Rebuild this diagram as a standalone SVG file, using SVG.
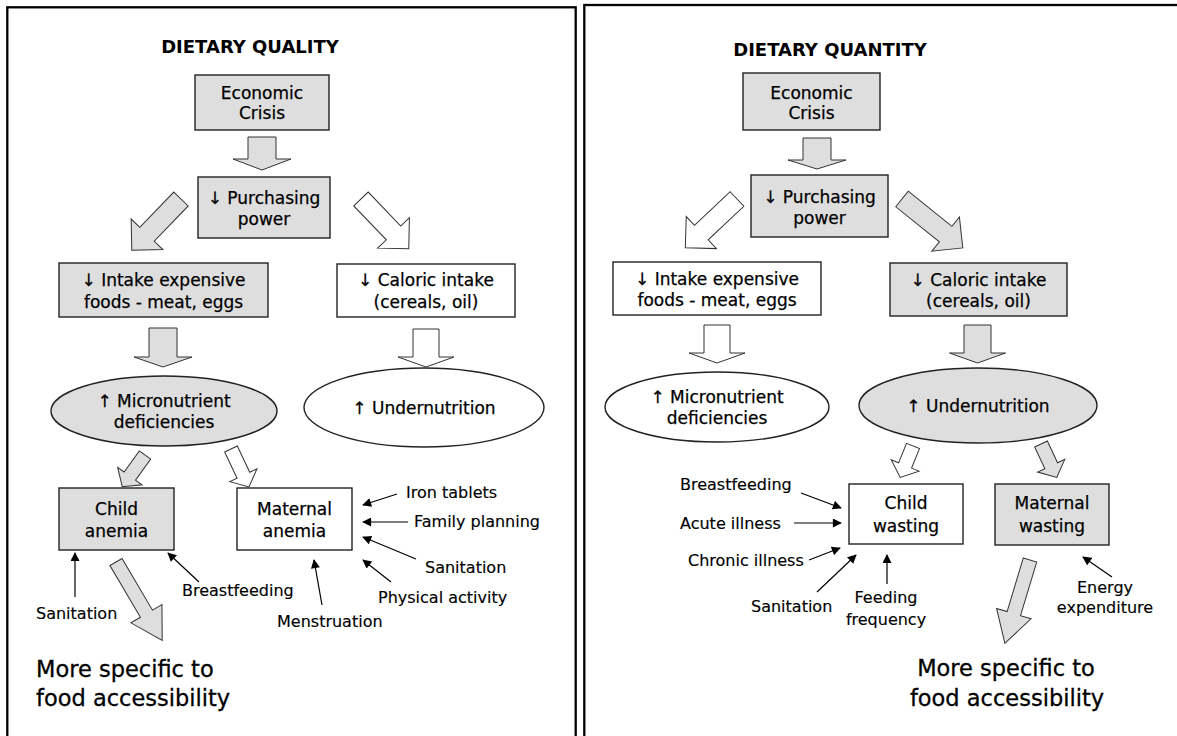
<svg xmlns="http://www.w3.org/2000/svg" width="1177" height="736" viewBox="0 0 1177 736">
<style>
  text { font-family: "DejaVu Sans", "Liberation Sans", sans-serif; fill: #000; stroke: #000; stroke-width: 0.25px; }
  .box { stroke: #222; stroke-width: 1.4; }
  .g { fill: #dedede; }
  .w { fill: #ffffff; }
  .t { font-size: 17px; text-anchor: middle; }
  .lbl { font-size: 16px; stroke-width: 0.15px; }
  .mid { text-anchor: middle; }
  .title { font-size: 18px; font-weight: bold; text-anchor: middle; stroke-width: 0; }
  .big { font-size: 22.5px; stroke-width: 0.3px; }
  .ba { stroke: #333; stroke-width: 1; }
  .thin { stroke: #000; stroke-width: 1.2; fill: none; marker-end: url(#ah); }
  .frame { fill: none; stroke: #000; stroke-width: 2.3; }
</style>
<defs>
  <marker id="ah" viewBox="0 0 10 10" refX="9" refY="5" markerWidth="10" markerHeight="9" markerUnits="userSpaceOnUse" orient="auto">
    <path d="M0,0 L10,5 L0,10 z" fill="#000"/>
  </marker>
</defs>
<rect width="1177" height="736" fill="#fff"/>
<g id="frames">
  <rect class="frame" x="7.3" y="7.3" width="568.4" height="760"/>
  <rect class="frame" x="584.3" y="5" width="620" height="760"/>
</g>

<!-- LEFT PANEL: DIETARY QUALITY -->
<g id="left-title"><text class="title" x="250" y="53">DIETARY QUALITY</text></g>
<g id="l-econ"><rect class="box g" x="195" y="75" width="134" height="55"/>
  <text class="t" x="262" y="99">Economic</text><text class="t" x="262" y="119">Crisis</text></g>
<g id="l-purch"><rect class="box g" x="198" y="177" width="132" height="61"/>
  <text class="t" x="264" y="204">↓ Purchasing</text><text class="t" x="264" y="225">power</text></g>
<g id="l-intake"><rect class="box g" x="59" y="263" width="209" height="54"/>
  <text class="t" x="163.5" y="286">↓ Intake expensive</text><text class="t" x="163.5" y="308">foods - meat, eggs</text></g>
<g id="l-caloric"><rect class="box w" x="337" y="264" width="178" height="53"/>
  <text class="t" x="426" y="286">↓ Caloric intake</text><text class="t" x="426" y="308">(cereals, oil)</text></g>
<g id="l-micro"><ellipse class="box g" cx="164" cy="411" rx="113" ry="35"/>
  <text class="t" x="164" y="407">↑ Micronutrient</text><text class="t" x="164" y="428">deficiencies</text></g>
<g id="l-under"><ellipse class="box w" cx="424" cy="407.5" rx="120" ry="39.5"/>
  <text class="t" x="424" y="414">↑ Undernutrition</text></g>
<g id="l-child"><rect class="box g" x="59" y="488" width="115" height="62"/>
  <text class="t" x="116.5" y="515">Child</text><text class="t" x="116.5" y="537">anemia</text></g>
<g id="l-maternal"><rect class="box w" x="237" y="488" width="115" height="62"/>
  <text class="t" x="294.5" y="515">Maternal</text><text class="t" x="294.5" y="537">anemia</text></g>
<g id="l-labels">
  <text class="lbl" x="406" y="498">Iron tablets</text>
  <text class="lbl" x="414" y="527">Family planning</text>
  <text class="lbl" x="425" y="573">Sanitation</text>
  <text class="lbl" x="378" y="603">Physical activity</text>
  <text class="lbl" x="277" y="627">Menstruation</text>
  <text class="lbl" x="182" y="596">Breastfeeding</text>
  <text class="lbl" x="36" y="619">Sanitation</text>
</g>
<g id="l-footer">
  <text class="big" x="36" y="677">More specific to</text>
  <text class="big" x="36" y="706">food accessibility</text>
</g>

<!-- RIGHT PANEL: DIETARY QUANTITY -->
<g id="right-title"><text class="title" x="830" y="56">DIETARY QUANTITY</text></g>
<g id="r-econ"><rect class="box g" x="743" y="73" width="137" height="57"/>
  <text class="t" x="811.5" y="99">Economic</text><text class="t" x="811.5" y="119">Crisis</text></g>
<g id="r-purch"><rect class="box g" x="751" y="175" width="137" height="62"/>
  <text class="t" x="819.5" y="203">↓ Purchasing</text><text class="t" x="819.5" y="224">power</text></g>
<g id="r-intake"><rect class="box w" x="613" y="262" width="208" height="53"/>
  <text class="t" x="717" y="285">↓ Intake expensive</text><text class="t" x="717" y="306">foods - meat, eggs</text></g>
<g id="r-caloric"><rect class="box g" x="890" y="263" width="177" height="53"/>
  <text class="t" x="978.5" y="286">↓ Caloric intake</text><text class="t" x="978.5" y="307">(cereals, oil)</text></g>
<g id="r-micro"><ellipse class="box w" cx="717" cy="407" rx="112" ry="35"/>
  <text class="t" x="717" y="403">↑ Micronutrient</text><text class="t" x="717" y="424">deficiencies</text></g>
<g id="r-under"><ellipse class="box g" cx="978" cy="405.5" rx="119" ry="37.5"/>
  <text class="t" x="978" y="412">↑ Undernutrition</text></g>
<g id="r-child"><rect class="box w" x="849" y="484" width="114" height="60"/>
  <text class="t" x="906" y="509">Child</text><text class="t" x="906" y="532">wasting</text></g>
<g id="r-maternal"><rect class="box g" x="995" y="484" width="114" height="61"/>
  <text class="t" x="1052" y="509">Maternal</text><text class="t" x="1052" y="532">wasting</text></g>
<g id="r-labels">
  <text class="lbl" x="680" y="490">Breastfeeding</text>
  <text class="lbl" x="680" y="529">Acute illness</text>
  <text class="lbl" x="688" y="566">Chronic illness</text>
  <text class="lbl" x="751" y="612">Sanitation</text>
  <text class="lbl mid" x="886" y="603">Feeding</text>
  <text class="lbl mid" x="886" y="625">frequency</text>
  <text class="lbl mid" x="1105" y="593">Energy</text>
  <text class="lbl mid" x="1105" y="613">expenditure</text>
</g>
<g id="r-footer">
  <text class="big mid" x="1006" y="676">More specific to</text>
  <text class="big mid" x="1007" y="706">food accessibility</text>
</g>

<!-- CONNECTORS -->
<g id="connectors">
  <!-- block arrows, local path from (0,0) pointing to (0,L) -->
  <path class="ba g" transform="translate(262,137)" d="M-14,0 H14 V22 H29 L0,33 L-29,22 H-14 Z"/>
  <path class="ba g" transform="translate(181,199) rotate(43.9)" d="M-10,0 H10 V49 H22 L0,71 L-22,49 H-10 Z"/>
  <path class="ba w" transform="translate(361,199) rotate(-43.8)" d="M-10,0 H10 V47 H22 L0,69 L-22,47 H-10 Z"/>
  <path class="ba g" transform="translate(163,328)" d="M-14,0 H14 V29 H29 L0,39 L-29,29 H-14 Z"/>
  <path class="ba w" transform="translate(426,329)" d="M-13,0 H13 V28 H28 L0,38 L-28,28 H-13 Z"/>
  <path class="ba g" transform="translate(145,455) rotate(35.7)" d="M-7,0 H7 V26 H15 L0,39 L-15,26 H-7 Z"/>
  <path class="ba w" transform="translate(231,449) rotate(-25.3)" d="M-7,0 H7 V29 H15 L0,42 L-15,29 H-7 Z"/>
  <path class="ba g" transform="translate(116,562) rotate(-30.5)" d="M-7,0 H7 V60 H18 L0,91 L-18,60 H-7 Z"/>

  <path class="ba g" transform="translate(817,138)" d="M-14,0 H14 V22 H29 L0,31 L-29,22 H-14 Z"/>
  <path class="ba w" transform="translate(737,199) rotate(46.7)" d="M-10,0 H10 V49 H22 L0,71 L-22,49 H-10 Z"/>
  <path class="ba g" transform="translate(902,199) rotate(-51.2)" d="M-10,0 H10 V56 H22 L0,78 L-22,56 H-10 Z"/>
  <path class="ba w" transform="translate(717,325)" d="M-13,0 H13 V28 H28 L0,38 L-28,28 H-13 Z"/>
  <path class="ba g" transform="translate(977.5,325)" d="M-13.5,0 H13.5 V28 H28 L0,38 L-28,28 H-13.5 Z"/>
  <path class="ba w" transform="translate(913,446) rotate(22.1)" d="M-7,0 H7 V21 H15 L0,34 L-15,21 H-7 Z"/>
  <path class="ba g" transform="translate(1041,444) rotate(-25.2)" d="M-7,0 H7 V24 H15 L0,37 L-15,24 H-7 Z"/>
  <path class="ba g" transform="translate(1030,560) rotate(16.8)" d="M-7,0 H7 V56 H18 L0,87 L-18,56 H-7 Z"/>

  <!-- thin influence arrows, left panel -->
  <line class="thin" x1="397" y1="494" x2="363" y2="505"/>
  <line class="thin" x1="408" y1="522" x2="363" y2="522"/>
  <line class="thin" x1="416" y1="559" x2="363" y2="537"/>
  <line class="thin" x1="391" y1="582" x2="363" y2="560"/>
  <line class="thin" x1="322" y1="605" x2="314" y2="560"/>
  <line class="thin" x1="199" y1="582" x2="168" y2="553"/>
  <line class="thin" x1="75" y1="597" x2="75" y2="553"/>
  <!-- thin influence arrows, right panel -->
  <line class="thin" x1="801" y1="493" x2="841" y2="508"/>
  <line class="thin" x1="794" y1="523" x2="841" y2="523"/>
  <line class="thin" x1="809" y1="560" x2="840" y2="548"/>
  <line class="thin" x1="817" y1="592" x2="856" y2="555"/>
  <line class="thin" x1="887" y1="584" x2="887" y2="555"/>
  <line class="thin" x1="1112" y1="577" x2="1083" y2="557"/>
</g>
</svg>
